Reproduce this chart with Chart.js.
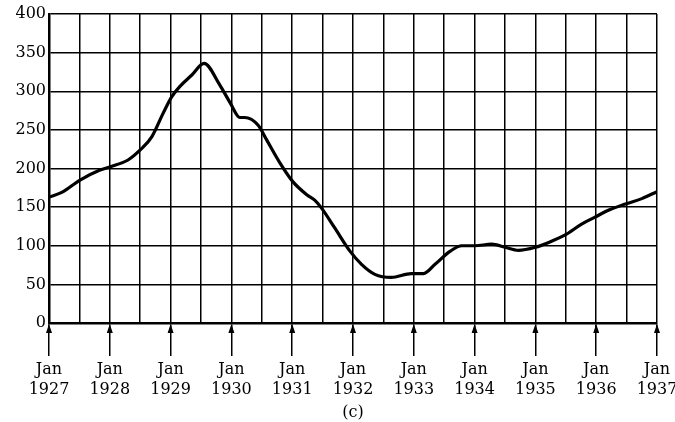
<!DOCTYPE html>
<html>
<head>
<meta charset="utf-8">
<script src="https://cdn.jsdelivr.net/npm/chart.js@4.4.0/dist/chart.umd.min.js"></script>
<style>
  html, body { margin: 0; padding: 0; background: #fff; }
  #wrap { width: 675px; height: 422px; }
</style>
</head>
<body>
<div id="wrap"><canvas id="myChart"></canvas></div>
<script>
// fechas en años decimales
const fechas = [1927.0, 1927.21, 1927.51, 1927.84, 1928.0, 1928.3, 1928.5, 1928.69, 1928.88,
  1929.02, 1929.15, 1929.35, 1929.55, 1929.81, 1929.98, 1930.14, 1930.22, 1930.44, 1930.58,
  1930.8, 1931.01, 1931.24, 1931.37, 1931.48, 1931.7, 1931.95, 1932.14, 1932.36, 1932.63,
  1932.96, 1933.16, 1933.35, 1933.6, 1933.79, 1934.0, 1934.28, 1934.5, 1934.72, 1935.0,
  1935.21, 1935.49, 1935.76, 1935.98, 1936.2, 1936.48, 1936.75, 1937.0];
const valores = [163, 169, 185, 198, 202, 211, 224, 241, 272,
  293, 306, 321, 336, 308, 285, 266, 266, 256, 237,
  207, 183, 166, 159, 149, 123, 93, 76, 63, 59,
  64, 64, 76, 93, 100, 100, 102, 98, 94, 98,
  104, 114, 128, 137, 146, 154, 161, 170];
const anios = [1927, 1928, 1929, 1930, 1931, 1932, 1933, 1934, 1935, 1936, 1937];
const fuente = 'DejaVu Serif, serif';

const esAnio = (v) => Math.abs(v - Math.round(v)) < 0.01;

// puntas de flecha bajo el eje
const flechas = {
  id: 'flechas',
  afterDraw(chart) {
    const ctx = chart.ctx;
    const x = chart.scales.x;
    const yTop = chart.chartArea.bottom + 1;
    ctx.save();
    ctx.fillStyle = '#000';
    anios.forEach(a => {
      const px = x.getPixelForValue(a);
      ctx.beginPath();
      ctx.moveTo(px, yTop);
      ctx.lineTo(px - 3, yTop + 9);
      ctx.lineTo(px + 3, yTop + 9);
      ctx.closePath();
      ctx.fill();
    });
    ctx.restore();
  }
};

const ctx = document.getElementById('myChart').getContext('2d');
new Chart(ctx, {
  type: 'line',
  data: {
    datasets: [{
      data: fechas.map((f, i) => ({ x: f, y: valores[i] })),
      borderColor: '#000',
      borderWidth: 3.2,
      pointRadius: 0,
      cubicInterpolationMode: 'monotone',
      fill: false
    }]
  },
  options: {
    responsive: true,
    maintainAspectRatio: false,
    animation: false,
    layout: { padding: { left: 0, right: 18, top: 14, bottom: 0 } },
    plugins: { legend: { display: false }, tooltip: { enabled: false } },
    scales: {
      x: {
        type: 'linear',
        min: 1927,
        max: 1937,
        afterBuildTicks: (scale) => {
          const t = [];
          for (let i = 0; i <= 20; i++) t.push({ value: 1927 + i * 0.5 });
          scale.ticks = t;
        },
        afterFit: (scale) => {
          scale.height = 99;
          scale.paddingLeft = 0;
          scale.paddingRight = 0;
        },
        border: { color: '#000', width: 2.5 },
        grid: {
          color: '#000',
          lineWidth: 1.5,
          tickLength: 33,
          tickWidth: 1.5,
          tickColor: (c) => esAnio(c.tick.value) ? '#000' : 'rgba(0,0,0,0)'
        },
        ticks: {
          autoSkip: false,
          maxRotation: 0,
          padding: 3,
          color: '#000',
          font: { family: fuente, size: 16, lineHeight: 1.3 },
          callback: (v) => esAnio(v) ? ['Jan', String(Math.round(v))] : ''
        },
        title: {
          display: true,
          text: '(c)',
          color: '#000',
          font: { family: fuente, size: 16 },
          padding: { top: 0, bottom: 0 }
        }
      },
      y: {
        min: 0,
        max: 400,
        afterFit: (scale) => { scale.width = 49; },
        border: { color: '#000', width: 2.5 },
        grid: { color: '#000', lineWidth: 1.5, drawTicks: false },
        ticks: {
          stepSize: 50,
          padding: 3,
          color: '#000',
          font: { family: fuente, size: 16 }
        }
      }
    }
  },
  plugins: [flechas]
});
</script>
</body>
</html>
